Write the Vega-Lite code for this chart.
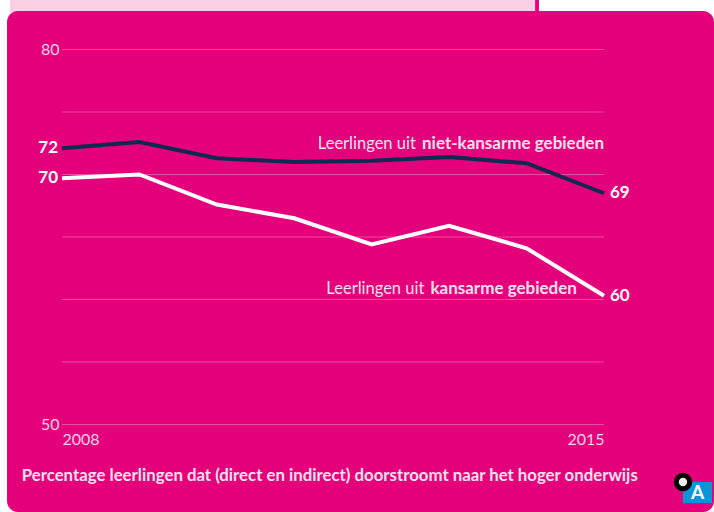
{
"$schema":"https://vega.github.io/schema/vega-lite/v6.json",
"width":542,"height":375,
"autosize":{"type":"none"},
"padding":{"left":62,"top":49.5,"right":110,"bottom":87.5},
"background":"#ffffff",
"view":{"stroke":null},
"config":{"text":{"font":"Lato"},"axis":{"labelFont":"Lato"}},
"data":{"values":[{}]},
"datasets":{
"series":[
{"year":2008,"value":72.1,"group":"niet-kansarm"},{"year":2009,"value":72.6,"group":"niet-kansarm"},{"year":2010,"value":71.3,"group":"niet-kansarm"},{"year":2011,"value":71.0,"group":"niet-kansarm"},{"year":2012,"value":71.1,"group":"niet-kansarm"},{"year":2013,"value":71.4,"group":"niet-kansarm"},{"year":2014,"value":70.9,"group":"niet-kansarm"},{"year":2015,"value":68.5,"group":"niet-kansarm"},
{"year":2008,"value":69.7,"group":"kansarm"},{"year":2009,"value":70.0,"group":"kansarm"},{"year":2010,"value":67.6,"group":"kansarm"},{"year":2011,"value":66.5,"group":"kansarm"},{"year":2012,"value":64.4,"group":"kansarm"},{"year":2013,"value":65.9,"group":"kansarm"},{"year":2014,"value":64.1,"group":"kansarm"},{"year":2015,"value":60.3,"group":"kansarm"}
],
"grid":[{"tick":50},{"tick":55},{"tick":60},{"tick":65},{"tick":70},{"tick":75},{"tick":80}]
},
"layer":[
{"mark":{"type":"rect","color":"#f8cfe3"},"encoding":{
"x":{"datum":2007.33,"type":"quantitative","scale":{"domain":[2008,2015]},"axis":{"values":[2008,2015],"format":"d","title":null,"grid":false,"domain":false,"ticks":false,"labelFlush":true,"labelPadding":7,"labelFontSize":16,"labelColor":"#fcd3e8","zindex":1}},
"x2":{"datum":2014.11},
"y":{"datum":84.5,"type":"quantitative","scale":{"domain":[50,80]},"axis":{"values":[50,80],"title":null,"grid":false,"domain":false,"ticks":false,"labelPadding":3,"labelFontSize":16,"labelColor":"#fcd3e8","zindex":1}},
"y2":{"datum":80}}},
{"mark":{"type":"rect","color":"#e4007a"},"encoding":{"x":{"datum":2014.11,"type":"quantitative"},"x2":{"datum":2014.16},"y":{"datum":84.5,"type":"quantitative"},"y2":{"datum":80}}},
{"mark":{"type":"rect","color":"#e4007a","cornerRadius":11},"encoding":{"x":{"datum":2007.29,"type":"quantitative"},"x2":{"datum":2016.42},"y":{"datum":83.08,"type":"quantitative"},"y2":{"datum":43}}},
{"data":{"name":"grid"},"mark":{"type":"rule","color":"#ee4b9e","strokeWidth":1},"encoding":{"x":{"datum":2008,"type":"quantitative"},"x2":{"datum":2015},"y":{"field":"tick","type":"quantitative"}}},
{"data":{"name":"series"},"mark":{"type":"line","strokeWidth":4,"strokeJoin":"miter"},"encoding":{
"x":{"field":"year","type":"quantitative"},
"y":{"field":"value","type":"quantitative"},
"color":{"field":"group","type":"nominal","scale":{"domain":["niet-kansarm","kansarm"],"range":["#10294f","#ffffff"]},"legend":null}}},
{"data":{"name":"series"},"transform":[{"filter":"datum.year==2008"}],"mark":{"type":"text","align":"right","dx":-4,"fontSize":17,"fontWeight":"bold","color":"#ffffff"},"encoding":{"x":{"field":"year","type":"quantitative"},"y":{"field":"value","type":"quantitative"},"text":{"field":"value","format":".0f"}}},
{"data":{"name":"series"},"transform":[{"filter":"datum.year==2015"}],"mark":{"type":"text","align":"left","dx":6,"fontSize":17,"fontWeight":"bold","color":"#ffffff"},"encoding":{"x":{"field":"year","type":"quantitative"},"y":{"field":"value","type":"quantitative"},"text":{"field":"value","format":".0f"}}},
{"mark":{"type":"text","align":"right","fontSize":16.5,"color":"#fde0ee"},"encoding":{"x":{"datum":2012.57,"type":"quantitative"},"y":{"datum":72.44,"type":"quantitative"},"text":{"value":"Leerlingen uit"}}},
{"mark":{"type":"text","align":"right","fontSize":17,"fontWeight":"bold","color":"#fde0ee"},"encoding":{"x":{"datum":2015,"type":"quantitative"},"y":{"datum":72.44,"type":"quantitative"},"text":{"value":"niet-kansarme gebieden"}}},
{"mark":{"type":"text","align":"right","fontSize":16.5,"color":"#fde0ee"},"encoding":{"x":{"datum":2012.68,"type":"quantitative"},"y":{"datum":60.84,"type":"quantitative"},"text":{"value":"Leerlingen uit"}}},
{"mark":{"type":"text","align":"right","fontSize":17,"fontWeight":"bold","color":"#fde0ee"},"encoding":{"x":{"datum":2014.65,"type":"quantitative"},"y":{"datum":60.84,"type":"quantitative"},"text":{"value":"kansarme gebieden"}}},
{"mark":{"type":"text","align":"left","fontSize":16.8,"fontWeight":"bold","color":"#fde0ee"},"encoding":{"x":{"datum":2007.48,"type":"quantitative"},"y":{"datum":45.88,"type":"quantitative"},"text":{"value":"Percentage leerlingen dat (direct en indirect) doorstroomt naar het hoger onderwijs"}}},
{"mark":{"type":"rect","color":"#0a95d8"},"encoding":{"x":{"datum":2016.02,"type":"quantitative"},"x2":{"datum":2016.395},"y":{"datum":45.4,"type":"quantitative"},"y2":{"datum":43.72}}},
{"mark":{"type":"point","filled":true,"color":"#eeeeee","stroke":"#000000","strokeWidth":5,"size":180,"opacity":1},"encoding":{"x":{"datum":2016.02,"type":"quantitative"},"y":{"datum":45.4,"type":"quantitative"}}},
{"mark":{"type":"text","fontSize":19,"fontWeight":"bold","color":"#ffffff"},"encoding":{"x":{"datum":2016.21,"type":"quantitative"},"y":{"datum":44.52,"type":"quantitative"},"text":{"value":"A"}}}
]
}
